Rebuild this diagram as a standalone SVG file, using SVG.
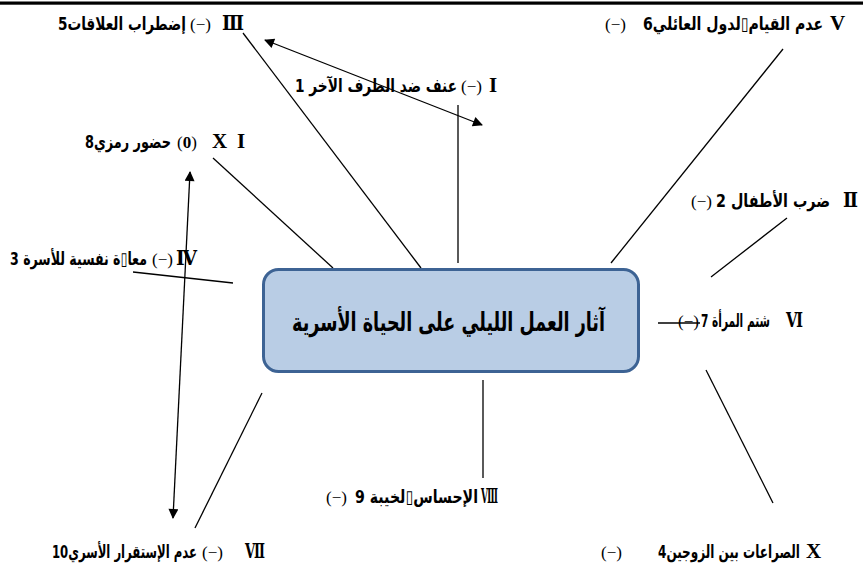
<svg xmlns="http://www.w3.org/2000/svg" width="863" height="570" viewBox="0 0 863 570">
<style>
.ln{stroke:#000;stroke-width:1.3;fill:none}
.ar{font-family:"DejaVu Sans",sans-serif;font-weight:bold;font-size:18px;fill:#000}
.rn{font-family:"Liberation Serif",serif;font-weight:bold;font-size:21px;fill:#000}
.ru{font-family:"DejaVu Serif",serif;font-weight:bold;font-size:20px;fill:#000}
.pr{font-family:"Liberation Serif",serif;font-size:17px;fill:#000}
.ttl{font-family:"DejaVu Sans",sans-serif;font-weight:bold;font-size:26px;fill:#000}
</style>
<defs>
<marker id="ah" viewBox="0 0 10 10" refX="9" refY="5" markerWidth="15" markerHeight="10" markerUnits="userSpaceOnUse" orient="auto-start-reverse">
<path d="M0,0 L10,5 L0,10 Z" fill="#000"/>
</marker>
</defs>
<rect x="0" y="1.5" width="863" height="3.2" fill="#000"/>
<g id="connectors">
<line class="ln" x1="243" y1="33" x2="421" y2="268"/>
<line class="ln" x1="458" y1="105" x2="458" y2="263"/>
<line class="ln" x1="783" y1="49" x2="611" y2="263"/>
<line class="ln" x1="213" y1="158" x2="333" y2="268"/>
<line class="ln" x1="133" y1="272" x2="233" y2="283"/>
<line class="ln" x1="787" y1="218" x2="711" y2="277"/>
<line class="ln" x1="658" y1="323" x2="700" y2="323"/>
<line class="ln" x1="706" y1="370" x2="773" y2="503"/>
<line class="ln" x1="483" y1="380" x2="483" y2="478"/>
<line class="ln" x1="262" y1="393" x2="195" y2="528"/>
<line class="ln" x1="265" y1="40" x2="482" y2="125" marker-start="url(#ah)" marker-end="url(#ah)"/>
<line class="ln" x1="190" y1="172" x2="173" y2="518" marker-start="url(#ah)" marker-end="url(#ah)"/>
</g>
<g id="center">
<rect x="263.5" y="269.5" width="375" height="102" rx="15" fill="#b9cde5" stroke="#3d6394" stroke-width="3"/>
<text class="ttl" x="605" y="331" text-anchor="end" textLength="313" lengthAdjust="spacingAndGlyphs">آثار العمل الليلي على الحياة الأسرية</text>
</g>
<g id="n3">
<text class="ar" x="186" y="30" text-anchor="end" textLength="128" lengthAdjust="spacingAndGlyphs">إضطراب العلاقات5</text>
<text class="pr" x="190" y="30">(−)</text>
<text class="ru" x="222" y="30" textLength="22" lengthAdjust="spacingAndGlyphs">Ⅲ</text>
</g>
<g id="n1">
<text class="ar" x="457" y="92" text-anchor="end" textLength="162" lengthAdjust="spacingAndGlyphs">عنف ضد الطرف الآخر 1</text>
<text class="pr" x="461" y="92">(−)</text>
<text class="rn" x="489" y="92">I</text>
</g>
<g id="n5">
<text class="ar" x="823" y="30" text-anchor="end" textLength="180" lengthAdjust="spacingAndGlyphs">عدم القيام▯لدول العائلي6</text>
<text class="pr" x="605" y="30">(−)</text>
<text class="rn" x="830" y="30">V</text>
</g>
<g id="n11">
<text class="ar" x="171" y="148" text-anchor="end" textLength="86" lengthAdjust="spacingAndGlyphs">حضور رمزي8</text>
<text class="pr" x="177" y="148">(<tspan font-weight="bold">0</tspan>)</text>
<text class="rn" x="212" y="148">X</text>
<text class="rn" x="237" y="148">I</text>
</g>
<g id="n4">
<text class="ar" x="147" y="265" text-anchor="end" textLength="137" lengthAdjust="spacingAndGlyphs">معا▯ة نفسية للأسرة 3</text>
<text class="pr" x="152" y="265">(−)</text>
<text class="ru" x="176" y="265" textLength="21" lengthAdjust="spacingAndGlyphs">Ⅳ</text>
</g>
<g id="n2">
<text class="ar" x="830" y="207" text-anchor="end" textLength="114" lengthAdjust="spacingAndGlyphs">ضرب الأطفال 2</text>
<text class="pr" x="691" y="207">(−)</text>
<text class="ru" x="843" y="207" textLength="15" lengthAdjust="spacingAndGlyphs">Ⅱ</text>
</g>
<g id="n6">
<text class="ar" x="770" y="327" text-anchor="end" textLength="69" lengthAdjust="spacingAndGlyphs">شتم المرأة 7</text>
<text class="pr" x="678" y="327">(−)</text>
<text class="ru" x="786" y="327" textLength="17" lengthAdjust="spacingAndGlyphs">Ⅵ</text>
</g>
<g id="n8">
<text class="ar" x="478" y="503" text-anchor="end" textLength="123" lengthAdjust="spacingAndGlyphs">الإحساس▯لخيبة  9</text>
<text class="pr" x="326" y="503">(−)</text>
<text class="ru" x="481" y="503" textLength="17" lengthAdjust="spacingAndGlyphs">Ⅷ</text>
</g>
<g id="n7">
<text class="ar" x="197" y="558" text-anchor="end" textLength="145" lengthAdjust="spacingAndGlyphs">عدم الإستقرار الأسري10</text>
<text class="pr" x="202" y="558">(−)</text>
<text class="ru" x="245" y="558" textLength="20" lengthAdjust="spacingAndGlyphs">Ⅶ</text>
</g>
<g id="n10">
<text class="ar" x="800" y="558" text-anchor="end" textLength="142" lengthAdjust="spacingAndGlyphs">الصراعات بين الزوجين4</text>
<text class="pr" x="601" y="558">(−)</text>
<text class="rn" x="806" y="558">X</text>
</g>
</svg>
